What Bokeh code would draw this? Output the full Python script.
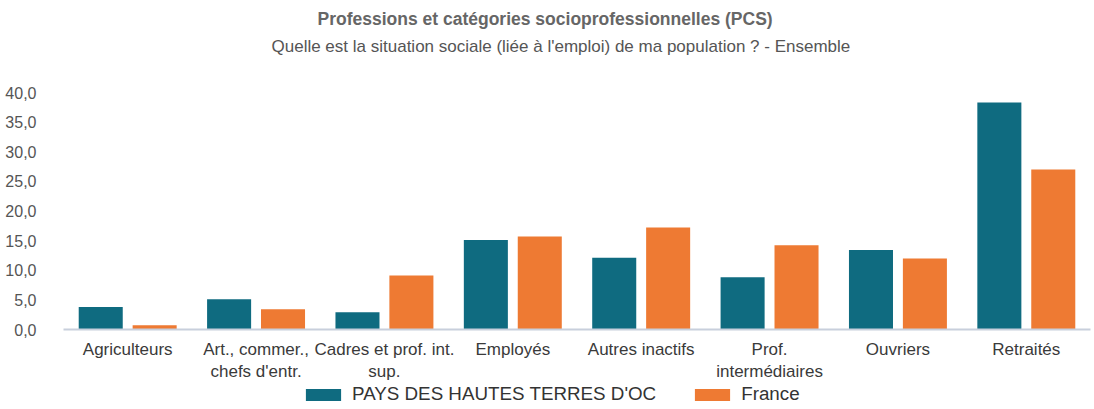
from bokeh.plotting import figure
from bokeh.layouts import column
from bokeh.models import (FactorRange, Range1d, ColumnDataSource, Legend, LegendItem,
                          Title, FixedTicker, CustomJSTickFormatter)
from bokeh.transform import dodge
from bokeh.embed import file_html
from bokeh.resources import INLINE

categories = ["Agriculteurs", "Art., commer.,\nchefs d'entr.", "Cadres et prof. int.\nsup.",
              "Employés", "Autres inactifs", "Prof.\nintermédiaires", "Ouvriers", "Retraités"]
pays = [3.8, 5.1, 2.9, 15.1, 12.1, 8.8, 13.4, 38.3]
france = [0.7, 3.4, 9.1, 15.7, 17.2, 14.2, 12.0, 27.0]
series_names = ["PAYS DES HAUTES TERRES D'OC", "France"]
y_ticks = [0, 5, 10, 15, 20, 25, 30, 35, 40]
title_text = "Professions et catégories socioprofessionnelles (PCS)"
subtitle_text = "Quelle est la situation sociale (liée à l'emploi) de ma population ? - Ensemble"

TEAL = "#0f6b80"
ORANGE = "#ee7a33"
FONT = "Liberation Sans"

src = ColumnDataSource(dict(cat=categories, pays=pays, france=france))

p = figure(width=1094, height=384, x_range=FactorRange(*categories), y_range=Range1d(0, 40),
           output_backend="svg", toolbar_location=None, title=None,
           min_border_left=63, min_border_right=4, min_border_top=92, min_border_bottom=55)
p.outline_line_color = None
p.xgrid.grid_line_color = None
p.ygrid.grid_line_color = None

r1 = p.vbar(x=dodge("cat", -0.21, range=p.x_range), top="pays", width=0.343, source=src,
            fill_color=TEAL, line_color=None)
r2 = p.vbar(x=dodge("cat", 0.21, range=p.x_range), top="france", width=0.343, source=src,
            fill_color=ORANGE, line_color=None)

# axes
p.yaxis.ticker = FixedTicker(ticks=y_ticks)
p.yaxis.formatter = CustomJSTickFormatter(code="return tick.toFixed(1).replace('.', ',');")
p.yaxis.axis_line_color = None
p.yaxis.major_tick_line_color = None
p.yaxis.minor_tick_line_color = None
p.yaxis.major_label_text_font = FONT
p.yaxis.major_label_text_font_size = "16px"
p.yaxis.major_label_text_color = "#555555"
p.yaxis.major_label_standoff = 21

p.xaxis.axis_line_color = "#c8cfdc"
p.xaxis.axis_line_width = 2
p.xaxis.major_tick_line_color = None
p.xaxis.minor_tick_line_color = None
p.xaxis.major_label_text_font = FONT
p.xaxis.major_label_text_font_size = "17px"
p.xaxis.major_label_text_color = "#3a3a3a"
p.xaxis.major_label_standoff = 4

# titles (stacked outward from the frame)
gap = Title(text=" ", text_font_size="1px", standoff=34)
p.add_layout(gap, "above")
sub = Title(text=subtitle_text, align="left", offset=208,
            text_font=FONT, text_font_size="17px", text_font_style="normal",
            text_color="#555555", standoff=0)
p.add_layout(sub, "above")
main = Title(text=title_text, align="left", offset=254,
             text_font=FONT, text_font_size="17.5px", text_font_style="bold",
             text_color="#666666", standoff=12)
p.add_layout(main, "above")

# legend strip below the chart (swatch renderers sit outside the visible range)
lg = figure(width=1094, height=25, x_range=Range1d(0, 1), y_range=Range1d(0, 1),
            output_backend="svg", toolbar_location=None, title=None,
            min_border_left=0, min_border_right=0, min_border_top=0, min_border_bottom=0)
lg.axis.visible = False
lg.grid.visible = False
lg.outline_line_color = None
swatch = ColumnDataSource(dict(x=[-10], top=[-10]))
k1 = lg.vbar(x="x", top="top", bottom=-20, width=0.1, source=swatch, fill_color=TEAL, line_color=None)
k2 = lg.vbar(x="x", top="top", bottom=-20, width=0.1, source=swatch, fill_color=ORANGE, line_color=None)
legend = Legend(items=[LegendItem(label=series_names[0], renderers=[k1]),
                       LegendItem(label=series_names[1], renderers=[k2])],
                orientation="horizontal", location=(238, 4),
                glyph_width=44, glyph_height=15, label_standoff=7, spacing=34,
                label_text_font=FONT, label_text_font_size="18.8px", label_text_color="#333333",
                border_line_color=None, background_fill_alpha=0, padding=2, margin=0)
lg.add_layout(legend, "center")

layout = column(p, lg, spacing=0)
open("out.html", "w").write(file_html(layout, INLINE))
